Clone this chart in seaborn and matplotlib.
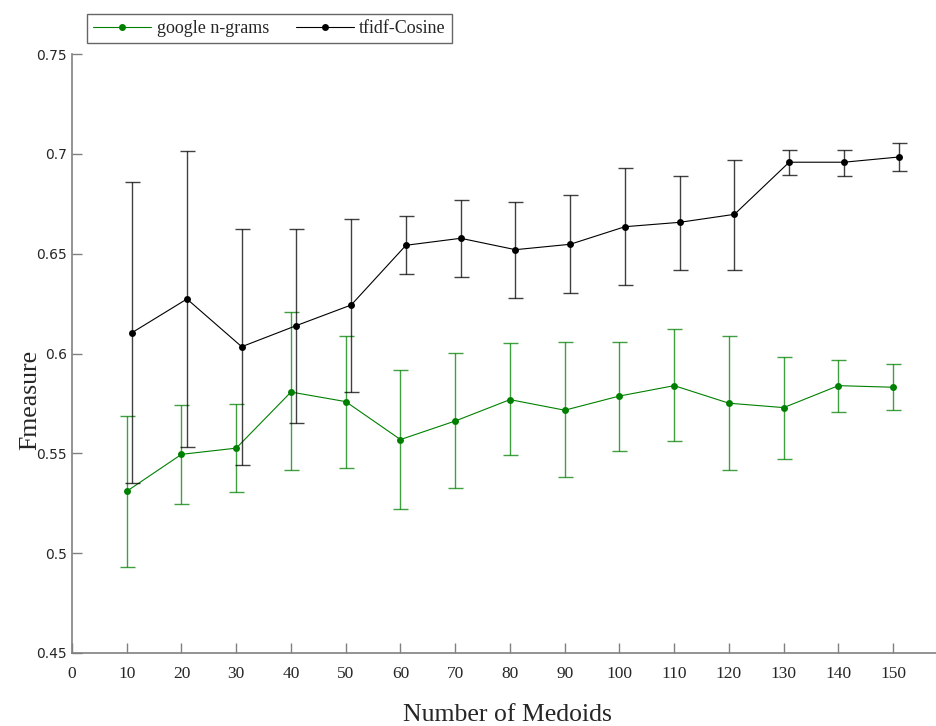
import numpy as np
import pandas as pd
import seaborn as sns
import matplotlib
matplotlib.use("Agg")
import matplotlib.pyplot as plt

# values
medoids = [10, 20, 30, 40, 50, 60, 70, 80, 90, 100, 110, 120, 130, 140, 150]
tfidf_x = [11, 21, 31, 41, 51, 61, 71, 81, 91, 101, 111, 121, 131, 141, 151]

google_mean = [0.531, 0.5495, 0.5526, 0.5807, 0.5759, 0.5569, 0.5662, 0.5769,
               0.5716, 0.5787, 0.5839, 0.5751, 0.5729, 0.5839, 0.5831]
google_low = [0.493, 0.5247, 0.5305, 0.5415, 0.5429, 0.522, 0.5325, 0.549,
              0.538, 0.5512, 0.556, 0.5415, 0.5472, 0.5706, 0.5716]
google_high = [0.5689, 0.5741, 0.5746, 0.6206, 0.6086, 0.5919, 0.6003, 0.6051,
               0.6056, 0.606, 0.6121, 0.6086, 0.5981, 0.5968, 0.5946]

tfidf_mean = [0.6105, 0.6273, 0.6034, 0.614, 0.6243, 0.6542, 0.6577, 0.652,
              0.6547, 0.6635, 0.6657, 0.6697, 0.6958, 0.6958, 0.6984]
tfidf_low = [0.535, 0.553, 0.5442, 0.5654, 0.5807, 0.6397, 0.6383, 0.6277,
             0.6303, 0.6343, 0.6418, 0.6418, 0.6896, 0.6891, 0.6913]
tfidf_high = [0.6859, 0.7014, 0.6625, 0.6625, 0.6674, 0.6687, 0.6771, 0.6759,
              0.6794, 0.6931, 0.6891, 0.6971, 0.7019, 0.7019, 0.7054]

green = "#008000"

sns.set_style("white")
plt.rcParams['font.family'] = ['Liberation Serif', 'DejaVu Serif']

fig = plt.figure(figsize=(9.37, 7.26), dpi=100)
ax = fig.add_axes([72/937, 73/726, 865/937, 599/726])

series = [
    ("google n-grams", medoids, google_mean, google_low, google_high, green),
    ("tfidf-Cosine", tfidf_x, tfidf_mean, tfidf_low, tfidf_high, "black"),
]
for name, xs, m, lo, hi, col in series:
    df = pd.DataFrame({"x": xs, "y": m})
    sns.lineplot(data=df, x="x", y="y", ax=ax, color=col, lw=0.8,
                 marker="o", markersize=5, markeredgewidth=0, label=name)
    m = np.array(m)
    yerr = [m - np.array(lo), np.array(hi) - m]
    ax.errorbar(xs, m, yerr=yerr, fmt="none", ecolor=col, elinewidth=1,
                capsize=5.4, capthick=1, alpha=0.75)

ax.set_xlim(0, 158)
ax.set_ylim(0.45, 0.75)
ax.set_xticks(range(0, 151, 10))
ax.set_yticks([0.45, 0.5, 0.55, 0.6, 0.65, 0.7, 0.75])
ax.set_yticklabels(["0.45", "0.5", "0.55", "0.6", "0.65", "0.7", "0.75"],
                   family="DejaVu Sans", fontsize=10)
for lab in ax.get_xticklabels():
    lab.set_fontsize(12.5)
ax.tick_params(axis="x", pad=9)
ax.tick_params(direction="in", length=7, width=1, color="#808080",
               bottom=True, left=True)
for s in ["top", "right"]:
    ax.spines[s].set_visible(False)
for s in ["left", "bottom"]:
    ax.spines[s].set_color("#808080")
    ax.spines[s].set_linewidth(1.2)

ax.set_xlabel("")
ax.set_ylabel("")
fig.text(507/937, 11/726, "Number of Medoids", fontsize=18.5,
         ha="center", va="center")
fig.text(30/937, 1 - 400/726, "Fmeasure", fontsize=18.5, rotation=90,
         ha="center", va="center")

leg = ax.legend(loc="lower left", bbox_to_anchor=(15/865, 1.018, 365/865, 0.053),
                mode="expand", ncol=2, frameon=True, fancybox=False,
                fontsize=13, handlelength=3.2, handletextpad=0.3,
                borderaxespad=0, borderpad=0.35)
leg.get_frame().set_edgecolor("#404040")
leg.get_frame().set_linewidth(1)

fig.savefig("out.png", dpi=100)
